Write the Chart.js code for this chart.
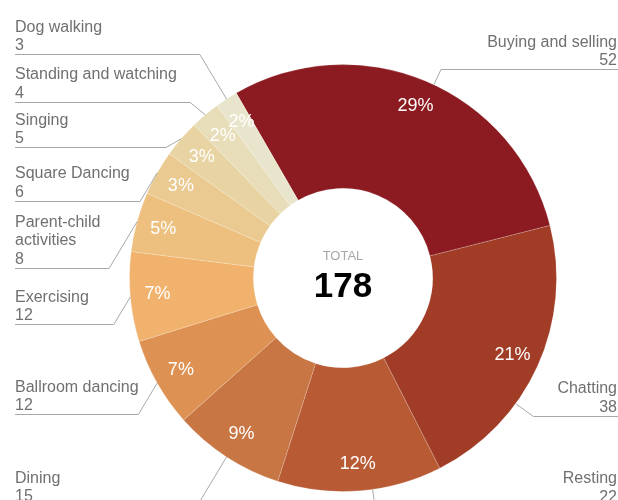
<!DOCTYPE html>
<html>
<head>
<meta charset="utf-8">
<script src="https://cdn.jsdelivr.net/npm/chart.js@4.4.1/dist/chart.umd.min.js"></script>
<style>
  html, body { margin: 0; padding: 0; background: #fff; }
  #wrap { width: 618px; height: 500px; overflow: hidden; }
</style>
</head>
<body>
<div id="wrap"><canvas id="activityChart" width="618" height="500"></canvas></div>
<script>
// activities seen in the park, clockwise from the top
const activities = [
  "Buying and selling", "Chatting", "Resting", "Dining", "Ballroom dancing",
  "Exercising", ["Parent-child", "activities"], "Square Dancing", "Singing",
  "Standing and watching", "Dog walking"
];
const counts = [52, 38, 22, 15, 12, 12, 8, 6, 5, 4, 3];
const totalResponses = 178;

const palette = [
  "#8c1b21", "#a13c26", "#b85a34", "#c87644", "#dd9152", "#f0b26d",
  "#eec07f", "#ebca91", "#e8d4a3", "#e8ddb9", "#e9e5cd"
];

// callout placement: which side, and baseline of the first text line
const calloutSide = ["right", "right", "right", "left", "left", "left", "left", "left", "left", "left", "left"];
const calloutBaseline = [46.7, 393.3, 483.3, 482.7, 391.7, 301.7, 226.7, 178, 124.5, 79, 31.7];

const FONT = '"Liberation Sans", Arial, sans-serif';
const LINE_GAP = 18.6;

// percentages that add up to 100 (largest remainder)
function roundedShares(values, total) {
  const raw = values.map(v => v / total * 100);
  const shares = raw.map(r => Math.floor(r));
  const missing = 100 - shares.reduce((a, b) => a + b, 0);
  raw.map((r, i) => [r - Math.floor(r), i])
    .sort((a, b) => b[0] - a[0])
    .slice(0, missing)
    .forEach(([, i]) => shares[i]++);
  return shares;
}

// angle a in [lo, hi], coping with the wrap at 2π
function clampAngle(a, lo, hi) {
  while (a < lo - Math.PI) a += Math.PI * 2;
  while (a > hi + Math.PI) a -= Math.PI * 2;
  return Math.min(hi, Math.max(lo, a));
}

const calloutPlugin = {
  id: "callouts",
  afterDatasetsDraw(chart) {
    const ctx = chart.ctx;
    const arcs = chart.getDatasetMeta(0).data;
    const shares = roundedShares(counts, totalResponses);

    ctx.save();
    arcs.forEach((arc, i) => {
      const { x, y, startAngle, endAngle, innerRadius, outerRadius } =
        arc.getProps(["x", "y", "startAngle", "endAngle", "innerRadius", "outerRadius"], true);
      const mid = (startAngle + endAngle) / 2;

      // share inside the ring
      const r = innerRadius + (outerRadius - innerRadius) * 0.78;
      ctx.fillStyle = "#ffffff";
      ctx.font = "18px " + FONT;
      ctx.textAlign = "center";
      ctx.textBaseline = "middle";
      ctx.fillText(shares[i] + "%", x + Math.cos(mid) * r, y + Math.sin(mid) * r);

      // name + count outside
      const lines = [].concat(activities[i], String(counts[i]));
      const left = calloutSide[i] === "left";
      const sign = left ? -1 : 1;
      const textX = left ? 15 : chart.width - 1;
      ctx.fillStyle = "#707070";
      ctx.font = "16px " + FONT;
      ctx.textAlign = left ? "left" : "right";
      ctx.textBaseline = "alphabetic";
      let widest = 0;
      lines.forEach((t, k) => {
        ctx.fillText(t, textX, calloutBaseline[i] + k * LINE_GAP);
        widest = Math.max(widest, ctx.measureText(t).width);
      });

      const ruleY = Math.round(calloutBaseline[i] + (lines.length - 1) * LINE_GAP + 4) + 0.5;
      let ax = x + Math.cos(mid) * outerRadius;
      let ay = y + Math.sin(mid) * outerRadius;
      let kneeX = ax + sign * Math.max(15, 0.6 * Math.abs(ruleY - ay));
      if (!left) {
        // keep the knee clear of the text, then aim the leader at it
        kneeX = Math.min(kneeX, textX - widest - 24);
        const a = clampAngle(Math.atan2(ruleY - y, kneeX - x), startAngle, endAngle);
        ax = x + Math.cos(a) * outerRadius;
        ay = y + Math.sin(a) * outerRadius;
      }

      ctx.strokeStyle = "#a8a8a8";
      ctx.lineWidth = 1;
      ctx.beginPath();
      ctx.moveTo(ax, ay);
      ctx.lineTo(kneeX, ruleY);
      ctx.lineTo(left ? 15 : chart.width, ruleY);
      ctx.stroke();
    });

    // total in the hole
    const c = arcs[0];
    ctx.textAlign = "center";
    ctx.textBaseline = "middle";
    ctx.fillStyle = "#a8a8a8";
    ctx.font = "13px " + FONT;
    ctx.fillText("TOTAL", c.x, c.y - 22);
    ctx.fillStyle = "#000000";
    ctx.font = "bold 35px " + FONT;
    ctx.fillText(String(totalResponses), c.x, c.y + 9);
    ctx.restore();
  }
};

new Chart(document.getElementById("activityChart"), {
  type: "doughnut",
  data: {
    labels: activities,
    datasets: [{
      data: counts,
      backgroundColor: palette,
      borderColor: "rgba(255, 255, 255, 0.18)",
      borderWidth: 1
    }]
  },
  options: {
    responsive: false,
    animation: false,
    rotation: -30,
    cutout: "42%",
    layout: { padding: { left: 129, right: 61, top: 64, bottom: 8 } },
    plugins: {
      legend: { display: false },
      tooltip: { enabled: false }
    }
  },
  plugins: [calloutPlugin]
});
</script>
</body>
</html>
